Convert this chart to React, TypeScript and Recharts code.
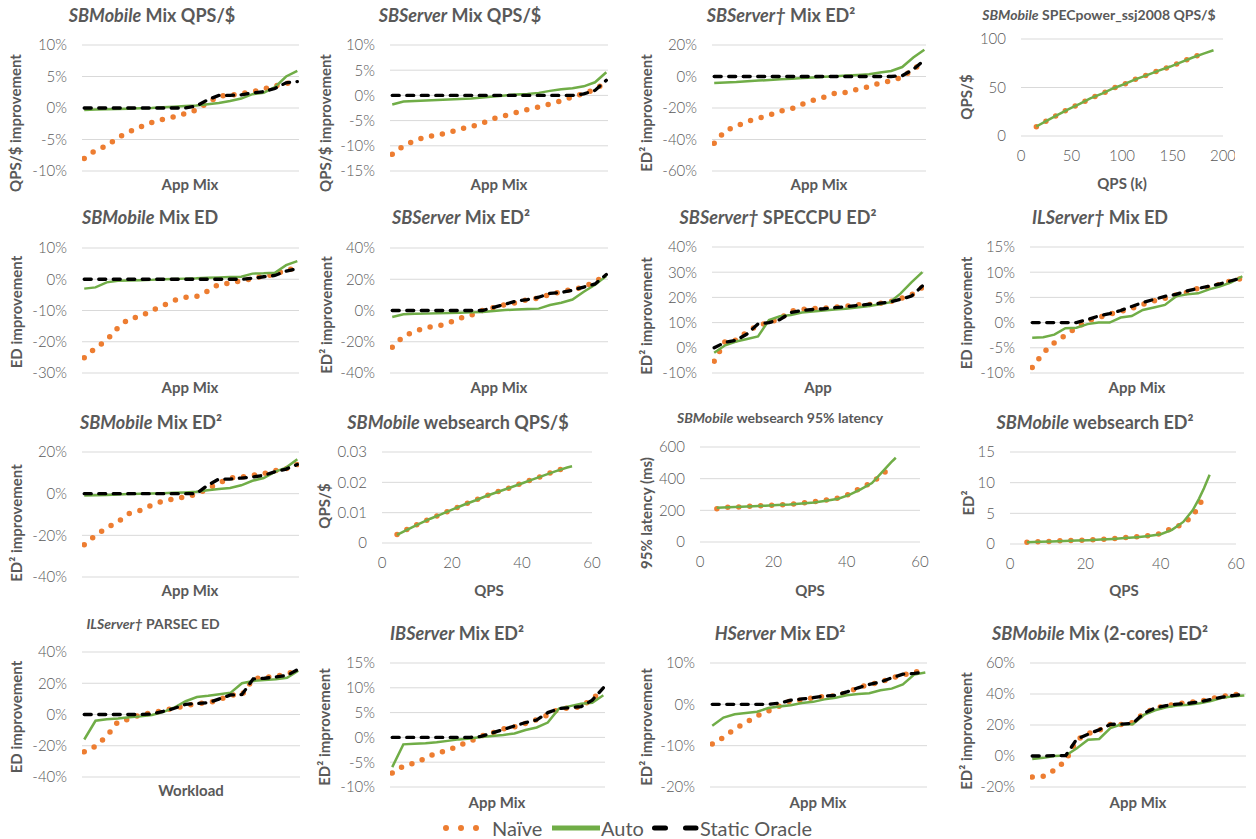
import React from "react";
import { LineChart, Line, XAxis, YAxis, CartesianGrid } from "recharts";

// ---------- data ----------
// Panel 1: SBMobile Mix QPS/$ (% improvement, sorted app mixes)
const p1Naive = [-8.0, -6.7, -6.0, -4.7, -3.8, -3.0, -2.3, -1.8, -1.4, -0.9, -0.3, 0.8, 1.9, 2.0, 2.3, 2.6, 3.0, 3.5, 3.9, 4.2];
const p1Auto = [-0.3, -0.25, -0.2, -0.15, -0.1, -0.05, 0, 0.1, 0.2, 0.3, 0.4, 0.6, 0.8, 1.1, 1.5, 2.2, 2.4, 3.3, 5.0, 5.9];
const p1Oracle = [0, 0, 0, 0, 0, 0, 0, 0, 0, 0, 0.3, 1.3, 2.0, 2.0, 2.1, 2.4, 2.6, 3.1, 4.0, 4.2];
// Panel 2: SBServer Mix QPS/$
const p2Naive = [-11.7, -10.0, -9.0, -8.2, -7.9, -7.4, -6.7, -6.2, -5.5, -4.6, -4.0, -3.4, -2.8, -2.3, -1.7, -1.1, -0.3, 0.4, 1.2, 2.7];
const p2Auto = [-1.8, -1.2, -1.1, -1.0, -0.9, -0.8, -0.7, -0.6, -0.4, -0.2, 0, 0.2, 0.3, 0.5, 0.9, 1.2, 1.4, 1.8, 2.6, 4.6];
const p2Oracle = [0, 0, 0, 0, 0, 0, 0, 0, 0, 0, 0, 0, 0, 0, 0, 0, 0, 0.3, 1.0, 3.0];
// Panel 3: SBServer† Mix ED²
const p3Naive = [-42.4, -34.5, -31.5, -28.5, -26.5, -24.5, -22, -20.5, -17.5, -15, -13, -10.5, -10, -8, -6.5, -4, -2.8, -0.5, 4.5, 9.5];
const p3Auto = [-4.2, -3.8, -3.5, -3.0, -2.6, -2.2, -1.8, -1.4, -1.0, -0.6, -0.2, 0.2, 0.6, 1.0, 1.5, 2.5, 3.5, 6.0, 12.0, 17.0];
const p3Oracle = [0, 0, 0, 0, 0, 0, 0, 0, 0, 0, 0, 0, 0, 0, 0, 0, 0, 0.5, 4.5, 10.5];
// Panel 4: SBMobile SPECpower_ssj2008 QPS/$ vs QPS (k)
const p4Qps = [15.2, 25.7, 36.3, 47.2, 58.1, 68.6, 80.2, 91.1, 102.3, 113.2, 124.8, 136.3, 147.9, 158.7, 170.0, 181.5, 190.6];
const p4Naive = [9.6, 15.8, 21.6, 27.8, 33.0, 38.8, 43.6, 49.1, 53.3, 58.4, 62.9, 67.4, 71.5, 76.3, 81.1, 85.6, null];
const p4Auto = [9.8, 15.9, 21.7, 27.8, 33.1, 38.7, 43.7, 49.0, 53.4, 58.3, 62.8, 67.4, 71.6, 76.2, 80.9, 85.2, 88.4];
// Panel 5: SBMobile Mix ED
const p5Naive = [-25.1, -22.0, -19.5, -15.5, -12.6, -12.0, -10.0, -8.5, -6.8, -5.8, -5.5, -3.8, -1.6, -1.3, -0.4, 0.1, 1.1, 1.4, 3.1, 3.3];
const p5Auto = [-3.0, -2.6, -1.0, -0.5, -0.4, -0.3, -0.2, 0, 0.1, 0.2, 0.3, 0.5, 0.6, 0.7, 0.8, 1.8, 1.9, 2.1, 4.5, 5.8];
const p5Oracle = [0, 0, 0, 0, 0, 0, 0, 0, 0, 0, 0, 0, 0, 0, 0, 0.3, 0.8, 1.2, 2.6, 3.4];
// Panel 6: SBServer Mix ED²
const p6Naive = [-23.5, -16.5, -13.5, -10.8, -10.0, -8.0, -5.0, -3.0, 0, 1.9, 3.8, 5.0, 7.0, 8.0, 10.2, 12.0, 13.5, 15.0, 18.5, 22.5];
const p6Auto = [-4.2, -2.4, -2.1, -2.0, -1.8, -1.6, -1.4, -1.2, -0.9, -0.3, 0.3, 0.6, 0.9, 1.2, 3.5, 5.0, 7.0, 12.0, 16.5, 22.0];
const p6Oracle = [0, 0, 0, 0, 0, 0, 0, 0, 0, 2, 4, 6, 7, 8.5, 11, 11.5, 13, 15, 17, 23];
// Panel 7: SBServer† SPECCPU ED²
const p7Naive = [-5.3, 2.6, 3.0, 6.3, 9.0, 9.9, 11.6, 14.6, 15.2, 15.6, 15.7, 16.1, 16.5, 17.1, 17.1, 17.5, 18.2, 19.5, 21.0, 24.0];
const p7Auto = [-2.0, 1.0, 2.5, 3.5, 4.5, 11.0, 12.5, 13.0, 14.0, 14.4, 14.8, 15.2, 15.5, 16.0, 16.5, 17.2, 18.0, 21.5, 26.0, 30.0];
const p7Oracle = [0, 2.2, 3.0, 5.5, 9.5, 10.0, 11.2, 14.0, 14.8, 15.2, 15.5, 15.9, 16.3, 16.8, 17.2, 17.6, 18.2, 19.2, 20.5, 24.5];
// Panel 8: ILServer† Mix ED
const p8Naive = [-8.9, -6.0, -4.0, -2.5, -1.0, 0.3, 1.0, 1.7, 2.2, 2.8, 3.6, 4.3, 4.8, 5.5, 6.0, 6.8, 7.0, 7.6, 8.3, 8.8];
const p8Auto = [-3.0, -2.9, -2.4, -1.1, -1.0, -0.3, 0, 0, 1.0, 1.3, 2.5, 3.0, 3.5, 5.2, 5.6, 5.8, 6.6, 7.2, 8.0, 9.2];
const p8Oracle = [0, 0, 0, 0, 0, 0.6, 1.3, 1.8, 2.4, 3.2, 4.0, 4.6, 5.2, 5.6, 6.3, 6.8, 7.2, 7.7, 8.3, 8.9];
// Panel 9: SBMobile Mix ED²
const p9Naive = [-24.5, -20.0, -16.5, -13.5, -9.5, -8.0, -5.5, -3.6, -2.5, -1.5, -0.3, 2.4, 5.0, 7.5, 8.0, 8.8, 9.6, 11.0, 12.0, 14.0];
const p9Auto = [-0.9, -0.8, -0.6, -0.4, -0.2, 0, 0.1, 0.2, 0.4, 0.6, 0.9, 1.6, 2.2, 2.7, 4.0, 6.2, 7.5, 10.5, 12.5, 16.5];
const p9Oracle = [0, 0, 0, 0, 0, 0, 0, 0, 0, 0, 0, 4.0, 7.0, 7.0, 7.5, 8.0, 8.8, 10.5, 11.8, 14.0];
// Panel 10: SBMobile websearch QPS/$ vs QPS
const p10Qps = [4.3, 7.4, 10.6, 13.8, 17.0, 20.2, 23.4, 26.6, 29.8, 33.0, 36.5, 39.9, 43.1, 46.3, 49.5, 52.9, 54.3];
const p10Naive = [0.0028, 0.0046, 0.0064, 0.008, 0.0096, 0.0111, 0.0126, 0.0141, 0.0155, 0.0169, 0.0182, 0.0197, 0.021, 0.0223, 0.0237, 0.025, null];
const p10Auto = [0.0027, 0.0045, 0.0063, 0.008, 0.0095, 0.0111, 0.0126, 0.014, 0.0155, 0.0168, 0.0182, 0.0196, 0.021, 0.0223, 0.0236, 0.0249, 0.0253];
// Panel 11: SBMobile websearch 95% latency (ms) vs QPS
const p11Qps = [4.6, 7.9, 11.2, 14.5, 17.8, 21.1, 24.4, 27.8, 31.1, 34.4, 37.7, 40.7, 43.8, 46.9, 49.6, 52.1, 53.4];
const p11Naive = [210, 221, 221, 227, 229, 234, 238, 246, 255, 265, 278, 301, 341, 375, 423, 476, null];
const p11Auto = [217, 220, 223, 226, 229, 233, 237, 243, 250, 260, 273, 298, 333, 372, 440, 503, 532];
// Panel 12: SBMobile websearch ED² vs QPS
const p12Qps = [4.5, 8.0, 11.1, 14.5, 17.7, 20.9, 24.1, 27.3, 30.5, 33.7, 36.8, 40.0, 43.0, 46.0, 48.5, 50.2, 51.5, 53.0];
const p12Naive = [0.27, 0.38, 0.44, 0.55, 0.6, 0.65, 0.76, 0.87, 1.04, 1.2, 1.36, 1.7, 2.56, 3.27, 4.58, 6.2, 7.9, null];
const p12Auto = [0.3, 0.35, 0.42, 0.5, 0.57, 0.63, 0.72, 0.83, 0.97, 1.12, 1.3, 1.6, 2.3, 3.6, 5.5, 7.4, 9.1, 11.3];
// Panel 13: ILServer† PARSEC ED
const p13Naive = [-23.9, -20.3, -13.8, -4.5, -3.0, 0, 1.0, 2.6, 4.0, 5.5, 7.0, 7.3, 9.5, 12.4, 12.6, 22.9, 23.7, 24.6, 25.8, 28.8];
const p13Auto = [-16.0, -4.0, -3.0, -2.5, -1.8, -1.2, -0.3, 1.5, 4.5, 8.5, 11.2, 12.0, 13.0, 14.0, 20.0, 21.5, 22.0, 22.5, 23.5, 28.0];
const p13Oracle = [0, 0, 0, 0, 0, 0, 0.3, 2.0, 4.0, 6.5, 7.0, 7.5, 10.0, 12.5, 12.8, 22.8, 23.2, 24.0, 25.0, 29.0];
// Panel 14: IBServer Mix ED²
const p14Naive = [-7.2, -5.8, -5.2, -4.2, -3.1, -2.7, -1.6, -0.8, 0.3, 0.9, 1.7, 2.1, 2.8, 3.6, 4.5, 5.7, 6.0, 6.1, 7.8, 9.4];
const p14Auto = [-6.0, -1.4, -1.3, -1.2, -1.0, -0.7, -0.4, -0.2, 0.1, 0.3, 0.5, 0.8, 1.5, 2.0, 3.0, 5.8, 6.3, 6.8, 7.0, 8.5];
const p14Oracle = [0, 0, 0, 0, 0, 0, 0, 0, 0.2, 0.9, 1.6, 2.3, 3.0, 3.5, 5.0, 5.8, 6.0, 6.2, 7.5, 10.0];
// Panel 15: HServer Mix ED²
const p15Naive = [-9.6, -8.0, -6.0, -4.4, -2.8, -1.6, -0.4, 0.9, 1.0, 1.6, 1.9, 2.1, 2.8, 4.0, 4.8, 5.3, 6.4, 7.1, 7.7, 8.6];
const p15Auto = [-5.2, -3.2, -2.4, -2.1, -1.8, -0.9, -0.5, -0.2, 0.3, 0.6, 1.2, 1.6, 2.2, 2.5, 2.7, 3.4, 3.8, 4.8, 7.2, 7.7];
const p15Oracle = [0, 0, 0, 0, 0, 0, 0.3, 1.0, 1.3, 1.6, 2.0, 2.2, 3.0, 4.0, 4.8, 5.4, 6.4, 7.3, 7.5, 7.8];
// Panel 16: SBMobile Mix (2-cores) ED²
const p16Naive = [-13.6, -13.1, -9.0, -3.0, 10.5, 14.5, 16.5, 20.4, 20.4, 21.6, 27.5, 31.0, 32.3, 33.8, 34.5, 35.2, 36.8, 38.5, 39.5, 40.3];
const p16Auto = [-2.0, -1.2, 0, 0.3, 5.0, 10.5, 11.0, 18.0, 20.5, 20.5, 26.5, 29.5, 31.5, 32.5, 33.0, 34.0, 35.5, 37.5, 38.5, 39.0];
const p16Oracle = [0, 0, 0.3, 0.3, 11.0, 14.0, 17.0, 20.4, 20.6, 21.0, 27.5, 31.0, 32.5, 33.5, 34.0, 35.0, 36.5, 38.0, 39.0, 40.0];

// tick values
const ticksP1 = [-10, -5, 0, 5, 10];
const ticksP2 = [-15, -10, -5, 0, 5, 10];
const ticksP3 = [-60, -40, -20, 0, 20];
const ticksP4y = [0, 50, 100];
const ticksP4x = [0, 50, 100, 150, 200];
const ticksP5 = [-30, -20, -10, 0, 10];
const ticksP6 = [-40, -20, 0, 20, 40];
const ticksP7 = [-10, 0, 10, 20, 30, 40];
const ticksP8 = [-10, -5, 0, 5, 10, 15];
const ticksP9 = [-40, -20, 0, 20];
const ticksP10y = [0, 0.01, 0.02, 0.03];
const ticksQpsX = [0, 20, 40, 60];
const ticksP11y = [0, 200, 400, 600];
const ticksP12y = [0, 5, 10, 15];
const ticksP13 = [-40, -20, 0, 20, 40];
const ticksP14 = [-10, -5, 0, 5, 10, 15];
const ticksP15 = [-20, -10, 0, 10];
const ticksP16 = [-20, 0, 20, 40, 60];

const SERIES_NAMES = ["Naïve", "Auto", "Static Oracle"];

// ---------- helpers ----------
const FONT = "Lato, 'Noto Sans', 'DejaVu Sans', sans-serif";
const TEXT = "#595959";
const ORANGE = "#ED7D31";
const GREEN = "#70AD47";

const pct = (v: number) => `${v}%`;
const plain = (v: number) => `${v}`;

function mixRows(naive: number[], auto: number[], oracle: number[]) {
  return naive.map((v, i) => ({ i, naive: v, auto: auto[i], oracle: oracle[i] }));
}
function xyRows(xs: number[], naive: (number | null)[], auto: number[]) {
  return xs.map((x, k) => ({ x, naive: naive[k], auto: auto[k] }));
}

type PanelProps = {
  L: number; R: number; T: number; B: number;
  rows: any[];
  xKey: string;
  xDomain: [number, number];
  xTicks?: number[];
  yDomain: [number, number];
  yTicks: number[];
  fmt: (v: number) => string;
  oracle?: boolean;
  title: React.ReactNode; tx: number; ty: number; tSize?: number;
  yLabel: React.ReactNode; lx: number; ly: number;
  xLabel: string; xx: number; xy: number;
};

function Panel(p: PanelProps) {
  const yW = 70, padT = 12, padR = 12, padB = 14;
  const xH = p.xTicks ? 34 : 0;
  const width = yW + (p.R - p.L) + padR;
  const height = padT + (p.B - p.T) + xH + padB;
  const tickStyle = { fill: TEXT, fontSize: 15, fontFamily: FONT, fontWeight: 300 };
  return (
    <>
      <div style={{ position: "absolute", left: p.L - yW, top: p.T - padT }}>
        <LineChart width={width} height={height} data={p.rows} margin={{ top: padT, right: padR, bottom: padB, left: 0 }}>
          <CartesianGrid vertical={false} stroke="#d9d9d9" strokeWidth={1} />
          <XAxis
            dataKey={p.xKey}
            type="number"
            domain={p.xDomain}
            hide={!p.xTicks}
            ticks={p.xTicks}
            interval={0}
            height={xH}
            axisLine={false}
            tickLine={false}
            tickSize={0}
            tickMargin={14}
            tick={tickStyle}
            allowDataOverflow
          />
          <YAxis
            type="number"
            domain={p.yDomain}
            ticks={p.yTicks}
            interval={0}
            width={yW}
            axisLine={false}
            tickLine={false}
            tickSize={0}
            tickMargin={15}
            tickFormatter={p.fmt}
            tick={tickStyle}
          />
          <Line dataKey="naive" name={SERIES_NAMES[0]} type="linear" stroke={ORANGE} strokeWidth={5.5}
            strokeDasharray="0 11" strokeLinecap="round" dot={false} isAnimationActive={false} connectNulls={false} />
          <Line dataKey="auto" name={SERIES_NAMES[1]} type="linear" stroke={GREEN} strokeWidth={2.5}
            dot={false} isAnimationActive={false} />
          {p.oracle !== false && (
            <Line dataKey="oracle" name={SERIES_NAMES[2]} type="linear" stroke="#000" strokeWidth={3.3}
              strokeDasharray="7 7.5" strokeLinecap="round" dot={false} isAnimationActive={false} />
          )}
        </LineChart>
      </div>
      <div style={{ position: "absolute", left: p.tx, top: p.ty, transform: "translate(-50%,-50%)", whiteSpace: "nowrap",
        fontFamily: FONT, fontWeight: 700, fontSize: p.tSize ?? 18, color: TEXT }}>{p.title}</div>
      <div style={{ position: "absolute", left: p.lx, top: p.ly, transform: "translate(-50%,-50%) rotate(-90deg)", whiteSpace: "nowrap",
        fontFamily: FONT, fontWeight: 700, fontSize: 15, color: TEXT }}>{p.yLabel}</div>
      <div style={{ position: "absolute", left: p.xx, top: p.xy, transform: "translate(-50%,-50%)", whiteSpace: "nowrap",
        fontFamily: FONT, fontWeight: 700, fontSize: 15, color: TEXT }}>{p.xLabel}</div>
    </>
  );
}

const mixDomain = (n: number): [number, number] => [-0.2, n - 0.85];

export default function App() {
  const n = 20;
  const r1 = mixRows(p1Naive, p1Auto, p1Oracle);
  const r2 = mixRows(p2Naive, p2Auto, p2Oracle);
  const r3 = mixRows(p3Naive, p3Auto, p3Oracle);
  const r4 = xyRows(p4Qps, p4Naive, p4Auto);
  const r5 = mixRows(p5Naive, p5Auto, p5Oracle);
  const r6 = mixRows(p6Naive, p6Auto, p6Oracle);
  const r7 = mixRows(p7Naive, p7Auto, p7Oracle);
  const r8 = mixRows(p8Naive, p8Auto, p8Oracle);
  const r9 = mixRows(p9Naive, p9Auto, p9Oracle);
  const r10 = xyRows(p10Qps, p10Naive, p10Auto);
  const r11 = xyRows(p11Qps, p11Naive, p11Auto);
  const r12 = xyRows(p12Qps, p12Naive, p12Auto);
  const r13 = mixRows(p13Naive, p13Auto, p13Oracle);
  const r14 = mixRows(p14Naive, p14Auto, p14Oracle);
  const r15 = mixRows(p15Naive, p15Auto, p15Oracle);
  const r16 = mixRows(p16Naive, p16Auto, p16Oracle);
  const ed2 = <>ED² improvement</>;
  const md = mixDomain(n);

  return (
    <div style={{ position: "absolute", left: 0, top: 0, width: 1256, height: 839, background: "#fff", fontFamily: FONT }}>
      {/* Row 1 */}
      <Panel L={82} R={299} T={45} B={171} rows={r1} xKey="i" xDomain={md} yDomain={[-10, 10]} yTicks={ticksP1} fmt={pct}
        title={<><i>SBMobile</i> Mix QPS/$</>} tx={152} ty={15}
        yLabel="QPS/$ improvement" lx={15} ly={123} xLabel="App Mix" xx={190} xy={184} />
      <Panel L={390} R={608} T={45} B={171} rows={r2} xKey="i" xDomain={md} yDomain={[-15, 10]} yTicks={ticksP2} fmt={pct}
        title={<><i>SBServer</i> Mix QPS/$</>} tx={460} ty={15}
        yLabel="QPS/$ improvement" lx={325} ly={123} xLabel="App Mix" xx={499} xy={184} />
      <Panel L={712} R={926} T={45} B={171} rows={r3} xKey="i" xDomain={md} yDomain={[-60, 20]} yTicks={ticksP3} fmt={pct}
        title={<><i>SBServer†</i> Mix ED²</>} tx={781} ty={15}
        yLabel={ed2} lx={646} ly={113} xLabel="App Mix" xx={819} xy={184} />
      <Panel L={1021} R={1223} T={39} B={136} rows={r4} xKey="x" xDomain={[0, 200]} xTicks={ticksP4x} yDomain={[0, 100]} yTicks={ticksP4y} fmt={plain}
        oracle={false}
        title={<><i>SBMobile</i> SPECpower_ssj2008 QPS/$</>} tx={1099} ty={14} tSize={14}
        yLabel="QPS/$" lx={966} ly={97} xLabel="QPS (k)" xx={1122} xy={183} />

      {/* Row 2 */}
      <Panel L={82} R={299} T={248} B={373} rows={r5} xKey="i" xDomain={md} yDomain={[-30, 10]} yTicks={ticksP5} fmt={pct}
        title={<><i>SBMobile</i> Mix ED</>} tx={150} ty={217}
        yLabel="ED improvement" lx={16} ly={312} xLabel="App Mix" xx={190} xy={387} />
      <Panel L={390} R={608} T={248} B={373} rows={r6} xKey="i" xDomain={md} yDomain={[-40, 40]} yTicks={ticksP6} fmt={pct}
        title={<><i>SBServer</i> Mix ED²</>} tx={461} ty={217}
        yLabel={ed2} lx={326} ly={315} xLabel="App Mix" xx={499} xy={387} />
      <Panel L={712} R={924} T={247} B={373} rows={r7} xKey="i" xDomain={md} yDomain={[-10, 40]} yTicks={ticksP7} fmt={pct}
        title={<><i>SBServer†</i> SPECCPU ED²</>} tx={778} ty={217}
        yLabel={ed2} lx={646} ly={316} xLabel="App" xx={818} xy={387} />
      <Panel L={1030} R={1244} T={247} B={373} rows={r8} xKey="i" xDomain={md} yDomain={[-10, 15]} yTicks={ticksP8} fmt={pct}
        title={<><i>ILServer†</i> Mix ED</>} tx={1100} ty={217}
        yLabel="ED improvement" lx={966} ly={313} xLabel="App Mix" xx={1137} xy={387} />

      {/* Row 3 */}
      <Panel L={82} R={299} T={452} B={577} rows={r9} xKey="i" xDomain={md} yDomain={[-40, 20]} yTicks={ticksP9} fmt={pct}
        title={<><i>SBMobile</i> Mix ED²</>} tx={151} ty={422}
        yLabel={ed2} lx={16} ly={523} xLabel="App Mix" xx={190} xy={590} />
      <Panel L={382} R={592} T={452} B={543} rows={r10} xKey="x" xDomain={[0, 60]} xTicks={ticksQpsX} yDomain={[0, 0.03]} yTicks={ticksP10y} fmt={plain}
        oracle={false}
        title={<><i>SBMobile</i> websearch QPS/$</>} tx={458} ty={422}
        yLabel="QPS/$" lx={324} ly={506} xLabel="QPS" xx={489} xy={590} />
      <Panel L={700} R={920} T={447} B={542} rows={r11} xKey="x" xDomain={[0, 60]} xTicks={ticksQpsX} yDomain={[0, 600]} yTicks={ticksP11y} fmt={plain}
        oracle={false}
        title={<><i>SBMobile</i> websearch 95% latency</>} tx={780} ty={417} tSize={14}
        yLabel="95% latency (ms)" lx={646} ly={513} xLabel="QPS" xx={810} xy={590} />
      <Panel L={1010} R={1236} T={452} B={544} rows={r12} xKey="x" xDomain={[0, 60]} xTicks={ticksQpsX} yDomain={[0, 15]} yTicks={ticksP12y} fmt={plain}
        oracle={false}
        title={<><i>SBMobile</i> websearch ED²</>} tx={1095} ty={422}
        yLabel="ED²" lx={968} ly={503} xLabel="QPS" xx={1124} xy={590} />

      {/* Row 4 */}
      <Panel L={82} R={300} T={652} B={777} rows={r13} xKey="i" xDomain={md} yDomain={[-40, 40]} yTicks={ticksP13} fmt={pct}
        title={<><i>ILServer†</i> PARSEC ED</>} tx={153} ty={623} tSize={14}
        yLabel="ED improvement" lx={16} ly={717} xLabel="Workload" xx={191} xy={790} />
      <Panel L={390} R={605} T={663} B={787} rows={r14} xKey="i" xDomain={md} yDomain={[-10, 15]} yTicks={ticksP14} fmt={pct}
        title={<><i>IBServer</i> Mix ED²</>} tx={457} ty={633}
        yLabel={ed2} lx={324} ly={727} xLabel="App Mix" xx={497} xy={802} />
      <Panel L={710} R={927} T={663} B={787} rows={r15} xKey="i" xDomain={md} yDomain={[-20, 10]} yTicks={ticksP15} fmt={pct}
        title={<><i>HServer</i> Mix ED²</>} tx={780} ty={633}
        yLabel={ed2} lx={646} ly={727} xLabel="App Mix" xx={818} xy={802} />
      <Panel L={1030} R={1246} T={663} B={787} rows={r16} xKey="i" xDomain={md} yDomain={[-20, 60]} yTicks={ticksP16} fmt={pct}
        title={<><i>SBMobile</i> Mix (2-cores) ED²</>} tx={1100} ty={633}
        yLabel={ed2} lx={966} ly={731} xLabel="App Mix" xx={1138} xy={802} />

      {/* Legend */}
      <svg style={{ position: "absolute", left: 0, top: 815 }} width={1256} height={26}>
        <line x1={446} x2={478} y1={13} y2={13} stroke={ORANGE} strokeWidth={6} strokeDasharray="0 15" strokeLinecap="round" />
        <text x={492} y={13} dominantBaseline="central" fontFamily={FONT} fontSize={20} fill={TEXT}>{SERIES_NAMES[0]}</text>
        <line x1={552} x2={600} y1={13} y2={13} stroke={GREEN} strokeWidth={5} />
        <text x={601} y={13} dominantBaseline="central" fontFamily={FONT} fontSize={20} fill={TEXT}>{SERIES_NAMES[1]}</text>
        <line x1={654.5} x2={696} y1={13} y2={13} stroke="#000" strokeWidth={5} strokeDasharray="11 20" strokeLinecap="round" />
        <text x={700} y={13} dominantBaseline="central" fontFamily={FONT} fontSize={20} fill={TEXT}>{SERIES_NAMES[2]}</text>
      </svg>
    </div>
  );
}
